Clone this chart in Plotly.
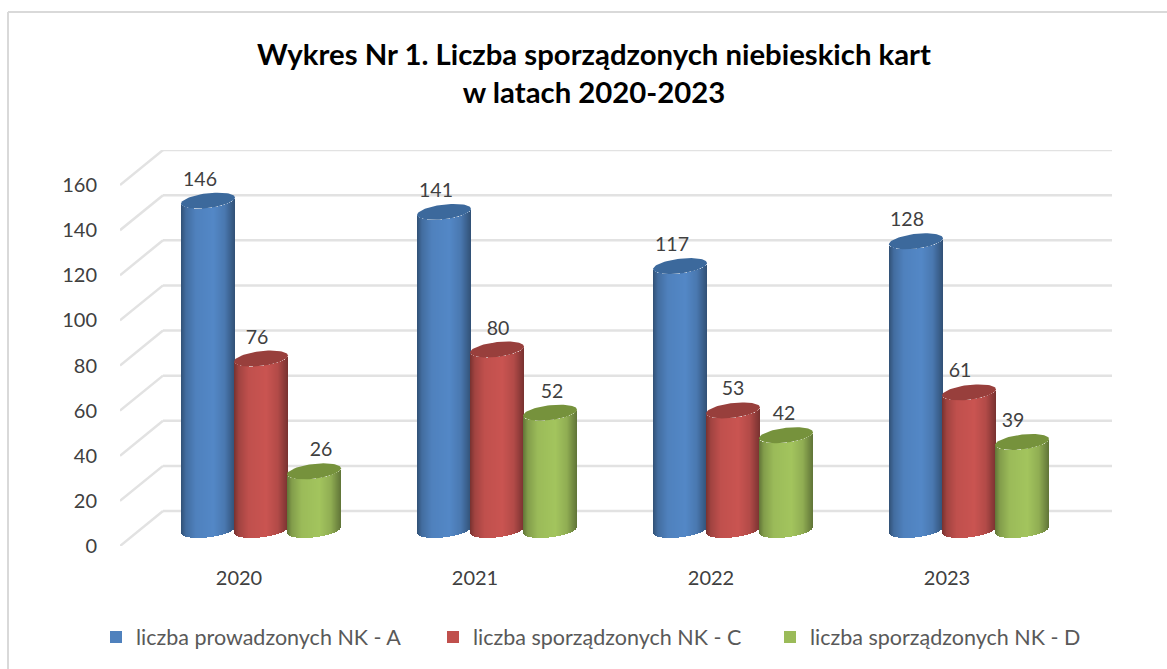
import numpy as np
import plotly.graph_objects as go

# ---- data ----
years = ["2020", "2021", "2022", "2023"]
series_names = ["liczba prowadzonych NK - A", "liczba sporządzonych NK - C", "liczba sporządzonych NK - D"]
values_a = [146, 141, 117, 128]
values_c = [76, 80, 53, 61]
values_d = [26, 52, 42, 39]
y_ticks = [0, 20, 40, 60, 80, 100, 120, 140, 160]
title_text = "<b>Wykres Nr 1. Liczba sporządzonych niebieskich kart<br>w latach 2020-2023</b>"

# ---- layout constants (pixels of the 1167x669 page) ----
W, H = 1167, 669
PL, PR, PT, PB = 120, 1112, 150, 546      # plot area
CAT_PX = 236.0                            # one category in pixels
CAT0_PX = 239.0                           # centre of first category
PX_PER_UNIT = 2.256
FONT = "Lato"
TXT = "#404040"
x_range = [(PL - CAT0_PX) / CAT_PX, (PR - CAT0_PX) / CAT_PX]
y_range = [0, (PB - PT) / PX_PER_UNIT]

WALL_DX = 43 / CAT_PX                     # floor depth, horizontally
WALL_DY = 35 / PX_PER_UNIT                # floor depth, vertically
BASE = 16 / PX_PER_UNIT                   # cylinder base above the axis zero
A_PX, B_PX, TILT_PX = 27.0, 7.4, 3.0      # ellipse semi-axes and tilt
STRIPS = 54
series_dx = [-31, 22, 75]                 # cylinder centre offset from category, px
base_colors = [(79, 129, 189), (192, 80, 77), (155, 187, 89)]
cap_colors = ["#3c699c", "#983f3c", "#76923c"]
legend_colors = ["#4f81bd", "#c0504d", "#9bbb59"]
label_dx = [[-8, -8, -8, -9], [-4, 1, 0, -9], [7, 2, -2, -9]]
label_dy = 8.8


def shade(rgb, u):
    stops_u = [-1.0, -0.82, -0.45, 0.2, 0.62, 1.0]
    stops_f = [0.62, 0.84, 1.0, 1.05, 0.93, 0.62]
    f = float(np.interp(u, stops_u, stops_f))
    return "rgb(%d,%d,%d)" % tuple(min(255, round(c * f)) for c in rgb)


def arc(u):
    """lower edge of an ellipse, value units relative to its centre"""
    return (-B_PX * np.sqrt(np.clip(1 - u * u, 0, 1)) + TILT_PX * u) / PX_PER_UNIT


fig = go.Figure()
all_values = [values_a, values_c, values_d]

strip_w = 2 * A_PX / STRIPS
for s, vals in enumerate(all_values):
    xs, bases, heights, cols = [], [], [], []
    for c, v in enumerate(vals):
        centre = c + series_dx[s] / CAT_PX
        for k in range(STRIPS):
            u = -1 + (k + 0.5) * 2 / STRIPS
            xs.append(centre + u * A_PX / CAT_PX)
            b = BASE + arc(u)
            bases.append(b)
            heights.append(v + arc(u) + BASE - b)
            cols.append(shade(base_colors[s], u))
    fig.add_trace(go.Bar(x=xs, y=heights, base=bases, width=strip_w / CAT_PX,
                         marker=dict(color=cols, line=dict(width=0)),
                         showlegend=False, hoverinfo="skip"))

t = np.linspace(0, 2 * np.pi, 73)
for s, vals in enumerate(all_values):
    for c, v in enumerate(vals):
        centre = c + series_dx[s] / CAT_PX
        ex = centre + np.cos(t) * A_PX / CAT_PX
        ey = BASE + v + (B_PX * np.sin(t) + TILT_PX * np.cos(t)) / PX_PER_UNIT
        fig.add_trace(go.Scatter(x=ex, y=ey, mode="lines", fill="toself",
                                 fillcolor=cap_colors[s], line=dict(width=0),
                                 showlegend=False, hoverinfo="skip"))

for s, vals in enumerate(all_values):
    fig.add_trace(go.Scatter(
        x=[c + (series_dx[s] + label_dx[s][c]) / CAT_PX for c in range(len(vals))],
        y=[v + BASE + label_dy for v in vals],
        mode="text", text=[str(v) for v in vals],
        textfont=dict(family=FONT, size=19.5, color=TXT),
        showlegend=False, hoverinfo="skip"))

for s, name in enumerate(series_names):
    fig.add_trace(go.Scatter(x=[None], y=[None], mode="markers", name=name,
                             marker=dict(symbol="square", size=14, color=legend_colors[s])))

GRID = dict(color="#e2e2e2", width=2.5)
shapes = []
for v in y_ticks:
    shapes.append(dict(type="line", xref="x", yref="y", layer="below",
                       x0=x_range[0], y0=v, x1=x_range[0] + WALL_DX, y1=v + WALL_DY, line=GRID))
    shapes.append(dict(type="line", xref="x", yref="y", layer="below",
                       x0=x_range[0] + WALL_DX, y0=v + WALL_DY, x1=x_range[1], y1=v + WALL_DY, line=GRID))


def px(x):
    return (x - PL) / (PR - PL)


def py(y):
    return (PB - y) / (PB - PT)


BORDER = dict(color="#d9d9d9", width=2)
shapes.append(dict(type="line", xref="paper", yref="paper", x0=px(8), y0=py(12), x1=px(W), y1=py(12), line=BORDER))
shapes.append(dict(type="line", xref="paper", yref="paper", x0=px(8), y0=py(12), x1=px(8), y1=py(H), line=BORDER))

fig.update_layout(
    width=W, height=H, autosize=False,
    margin=dict(l=PL, r=W - PR, t=PT, b=H - PB, pad=0),
    paper_bgcolor="white", plot_bgcolor="rgba(0,0,0,0)",
    barmode="overlay", bargap=0,
    title=dict(text=title_text, x=594 / W, xanchor="center", y=1 - 65 / H, yanchor="top",
               font=dict(family=FONT, size=29.3, color="#000000")),
    xaxis=dict(range=x_range, tickmode="array", tickvals=list(range(len(years))), ticktext=years,
               showgrid=False, zeroline=False, showline=False, ticks="", ticklabelstandoff=18,
               tickfont=dict(family=FONT, size=20, color=TXT)),
    yaxis=dict(range=y_range, tickmode="array", tickvals=y_ticks, ticktext=[str(v) for v in y_ticks],
               showgrid=False, zeroline=False, showline=False, ticks="", ticklabelstandoff=22,
               tickfont=dict(family=FONT, size=20, color=TXT)),
    legend=dict(orientation="h", x=px(96), xanchor="left", y=py(637), yanchor="middle",
                font=dict(family=FONT, size=21.5, color="#595959"),
                entrywidth=292, entrywidthmode="pixels", traceorder="normal", itemsizing="constant",
                bgcolor="rgba(0,0,0,0)"),
    shapes=shapes,
)
fig.write_html("out.html", config={"displayModeBar": False},
               post_script="document.body.style.margin='0';")
